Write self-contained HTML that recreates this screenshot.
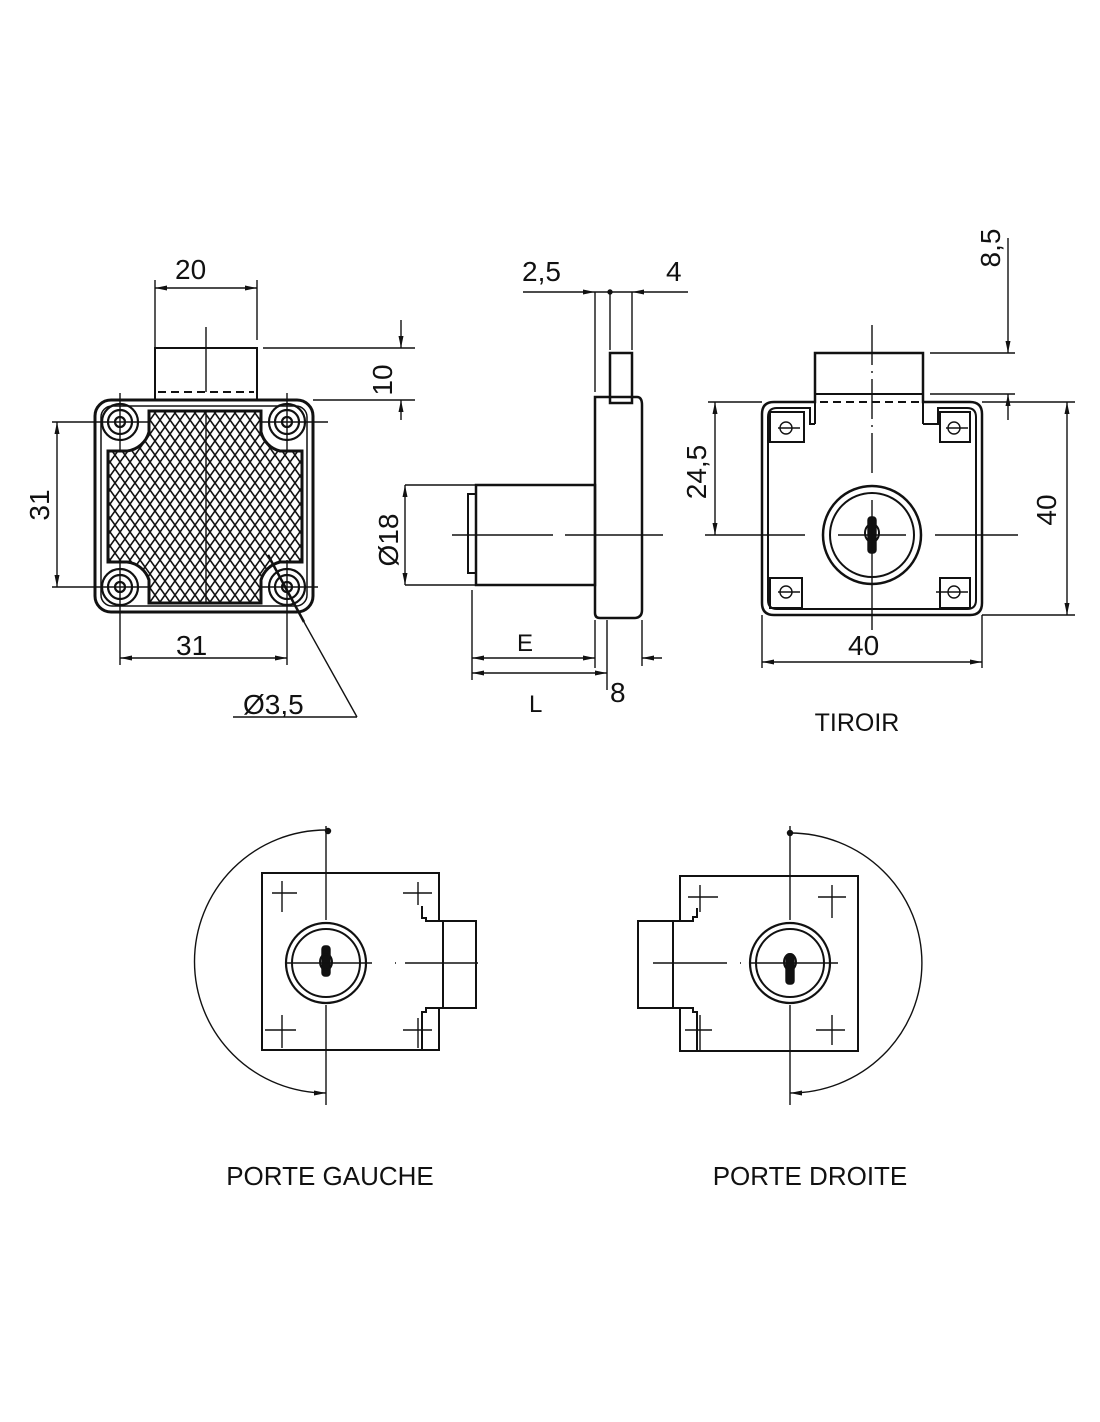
<!DOCTYPE html>
<html><head><meta charset="utf-8"><style>
html,body{margin:0;padding:0;background:#fff}
svg{display:block}
text{font-family:"Liberation Sans",sans-serif;fill:#111}
</style></head><body>
<svg width="1100" height="1422" viewBox="0 0 1100 1422" xmlns="http://www.w3.org/2000/svg">
<defs>
<pattern id="h" width="10" height="14" patternUnits="userSpaceOnUse">
<path d="M0,0 L10,14 M10,0 L0,14 M-5,-7 L5,7 M5,21 L15,35" stroke="#111" stroke-width="1.6" fill="none"/>
</pattern>
<marker id="a" viewBox="0 0 12 6" refX="12" refY="3" markerWidth="12" markerHeight="6" orient="auto-start-reverse" markerUnits="userSpaceOnUse"><path d="M0,0.5 L12,3 L0,5.5 Z" fill="#111"/></marker>
</defs>
<g stroke="#111" fill="none" stroke-width="1.4">
<!-- LEFT VIEW -->
<rect x="95" y="400" width="218" height="212" rx="16" stroke-width="3"/>
<rect x="101" y="406" width="206" height="200" rx="11" stroke-width="1.5"/>
<rect x="155" y="348" width="102" height="52" stroke-width="2"/>
<line x1="158" y1="392" x2="254" y2="392" stroke-dasharray="8,5" stroke-width="2"/>
<line x1="206" y1="327" x2="206" y2="392"/>
<path d="M149,411 H261 V432 A26,26 0 0 0 280,451 H302 V562 H280 A26,26 0 0 0 261,580 V603 H149 V580 A26,26 0 0 0 127,562 H108 V451 H127 A26,26 0 0 0 149,432 Z" fill="url(#h)" stroke-width="3"/>
<line x1="206" y1="411" x2="206" y2="603"/>
<g stroke-width="2.2">
<circle cx="120" cy="422" r="18"/><circle cx="120" cy="422" r="12"/><circle cx="120" cy="422" r="5"/>
<circle cx="287" cy="422" r="18"/><circle cx="287" cy="422" r="12"/><circle cx="287" cy="422" r="5"/>
<circle cx="120" cy="587" r="18"/><circle cx="120" cy="587" r="12"/><circle cx="120" cy="587" r="5"/>
<circle cx="287" cy="587" r="18"/><circle cx="287" cy="587" r="12"/><circle cx="287" cy="587" r="5"/>
</g>
<line x1="120" y1="393" x2="120" y2="450"/><line x1="287" y1="393" x2="287" y2="450"/>
<line x1="120" y1="560" x2="120" y2="665"/><line x1="287" y1="560" x2="287" y2="665"/>
<line x1="52" y1="422" x2="150" y2="422"/><line x1="52" y1="587" x2="150" y2="587"/>
<line x1="262" y1="422" x2="328" y2="422"/><line x1="262" y1="587" x2="318" y2="587"/>
<!-- dims left -->
<line x1="155" y1="280" x2="155" y2="348"/><line x1="257" y1="280" x2="257" y2="340"/>
<line x1="155" y1="288" x2="257" y2="288" marker-start="url(#a)" marker-end="url(#a)"/>
<line x1="263" y1="348" x2="415" y2="348"/><line x1="313" y1="400" x2="415" y2="400"/>
<line x1="401" y1="320" x2="401" y2="348" marker-end="url(#a)"/>
<line x1="401" y1="420" x2="401" y2="400" marker-end="url(#a)"/>
<line x1="57" y1="422" x2="57" y2="587" marker-start="url(#a)" marker-end="url(#a)"/>
<line x1="120" y1="658" x2="287" y2="658" marker-start="url(#a)" marker-end="url(#a)"/>
<line x1="268" y1="555" x2="304" y2="622" stroke-width="2.5"/>
<line x1="304" y1="622" x2="357" y2="717"/>
<line x1="233" y1="717" x2="357" y2="717"/>
<!-- MIDDLE VIEW -->
<path d="M595,397 H637 Q642,397 642,405 V610 Q642,618 634,618 H600 Q595,618 595,613 Z" stroke-width="2.5"/>
<rect x="610" y="353" width="22" height="50" stroke-width="2.5"/>
<rect x="476" y="485" width="119" height="100" stroke-width="2.5"/>
<rect x="468" y="494" width="8" height="79" stroke-width="2"/>
<line x1="452" y1="535" x2="553" y2="535"/><line x1="565" y1="535" x2="663" y2="535"/>
<line x1="405" y1="485" x2="476" y2="485"/><line x1="405" y1="585" x2="476" y2="585"/>
<line x1="405" y1="485" x2="405" y2="585" marker-start="url(#a)" marker-end="url(#a)"/>
<line x1="595" y1="292" x2="595" y2="392"/><line x1="610" y1="292" x2="610" y2="350"/><line x1="632" y1="292" x2="632" y2="350"/>
<line x1="523" y1="292" x2="595" y2="292" marker-end="url(#a)"/>
<line x1="595" y1="292" x2="632" y2="292"/>
<line x1="688" y1="292" x2="632" y2="292" marker-end="url(#a)"/>
<circle cx="610" cy="292" r="2" fill="#111"/>
<line x1="472" y1="590" x2="472" y2="680"/><line x1="595" y1="620" x2="595" y2="668"/>
<line x1="607" y1="620" x2="607" y2="690"/><line x1="642" y1="620" x2="642" y2="666"/>
<line x1="472" y1="658" x2="595" y2="658" marker-start="url(#a)" marker-end="url(#a)"/>
<line x1="472" y1="673" x2="607" y2="673" marker-start="url(#a)" marker-end="url(#a)"/>
<line x1="662" y1="658" x2="642" y2="658" marker-end="url(#a)"/>
<!-- RIGHT VIEW -->
<path d="M774,402 H815 V353 H923 V402 H970 Q982,402 982,414 V603 Q982,615 970,615 H774 Q762,615 762,603 V414 Q762,402 774,402 Z" stroke-width="2.5"/>
<path d="M777,408 H810 V424 H815 M923,424 H938 V408 H967 Q976,408 976,417 V600 Q976,609 967,609 H777 Q768,609 768,600 V417 Q768,408 777,408" stroke-width="2"/>
<line x1="815" y1="394" x2="923" y2="394" stroke-width="2"/>
<line x1="820" y1="402" x2="920" y2="402" stroke-dasharray="8,5" stroke-width="2"/>
<line x1="810" y1="408" x2="810" y2="424" stroke-width="2"/><line x1="815" y1="394" x2="815" y2="424" stroke-width="2"/>
<line x1="923" y1="394" x2="923" y2="424" stroke-width="2"/><line x1="938" y1="408" x2="938" y2="424" stroke-width="2"/>
<rect x="770" y="412" width="34" height="30" stroke-width="2"/>
<rect x="940" y="412" width="30" height="30" stroke-width="2"/>
<rect x="770" y="578" width="32" height="30" stroke-width="2"/>
<rect x="940" y="578" width="30" height="30" stroke-width="2"/>
<circle cx="786" cy="428" r="6"/><circle cx="954" cy="428" r="6"/><circle cx="786" cy="592" r="6"/><circle cx="954" cy="592" r="6"/>
<line x1="778" y1="428" x2="800" y2="428"/><line x1="946" y1="428" x2="968" y2="428"/><line x1="778" y1="592" x2="800" y2="592"/><line x1="936" y1="592" x2="968" y2="592"/>
<circle cx="872" cy="535" r="49" stroke-width="2.5"/><circle cx="872" cy="535" r="42" stroke-width="2"/>
<rect x="868" y="517" width="8" height="36" rx="3" fill="#111"/>
<ellipse cx="872" cy="533" rx="7" ry="9" stroke-width="2"/>
<line x1="872" y1="325" x2="872" y2="478" stroke-dasharray="40,6,2,6"/><line x1="872" y1="500" x2="872" y2="630"/>
<line x1="705" y1="535" x2="805" y2="535"/><line x1="838" y1="535" x2="906" y2="535"/><line x1="935" y1="535" x2="1018" y2="535"/>
<line x1="708" y1="402" x2="762" y2="402"/>
<line x1="715" y1="402" x2="715" y2="535" marker-start="url(#a)" marker-end="url(#a)"/>
<line x1="982" y1="402" x2="1075" y2="402"/><line x1="982" y1="615" x2="1075" y2="615"/>
<line x1="1067" y1="402" x2="1067" y2="615" marker-start="url(#a)" marker-end="url(#a)"/>
<line x1="762" y1="615" x2="762" y2="668"/><line x1="982" y1="615" x2="982" y2="668"/>
<line x1="762" y1="662" x2="982" y2="662" marker-start="url(#a)" marker-end="url(#a)"/>
<line x1="930" y1="353" x2="1015" y2="353"/><line x1="930" y1="394" x2="1015" y2="394"/>
<line x1="1008" y1="238" x2="1008" y2="353" marker-end="url(#a)"/>
<line x1="1008" y1="420" x2="1008" y2="394" marker-end="url(#a)"/>
<!-- PORTE GAUCHE -->
<path d="M439,921 V873 H262 V1050 H439 V1008" stroke-width="2"/>
<path d="M422,906 V918 H426 V921 H476 V1008 H426 V1012 H422 V1050" stroke-width="2"/>
<line x1="443" y1="921" x2="443" y2="1008" stroke-width="2"/>
<circle cx="326" cy="963" r="40" stroke-width="2.2"/><circle cx="326" cy="963" r="34" stroke-width="2"/>
<rect x="322" y="946" width="8" height="30" rx="3" fill="#111"/><ellipse cx="326" cy="962" rx="6" ry="8" stroke-width="2"/>
<line x1="326" y1="826" x2="326" y2="920"/><line x1="326" y1="1005" x2="326" y2="1105"/>
<line x1="285" y1="963" x2="372" y2="963"/><line x1="395" y1="963" x2="396" y2="963"/><line x1="405" y1="963" x2="478" y2="963"/>
<path d="M326,830 A131,131 0 0 0 326,1093" marker-end="url(#a)"/>
<circle cx="328" cy="831" r="2.5" fill="#111"/>
<path d="M272,893 H297 M282,881 V912 M403,893 H432 M418,882 V905 M265,1030 H296 M282,1015 V1048 M403,1030 H432 M418,1018 V1048"/>
<!-- PORTE DROITE -->
<path d="M680,921 V876 H858 V1051 H680 V1008" stroke-width="2"/>
<path d="M697,908 V917 H693 V921 H638 V1008 H693 V1012 H697 V1051" stroke-width="2"/>
<line x1="673" y1="921" x2="673" y2="1008" stroke-width="2"/>
<circle cx="790" cy="963" r="40" stroke-width="2.2"/><circle cx="790" cy="963" r="34" stroke-width="2"/>
<rect x="786" y="954" width="8" height="30" rx="3" fill="#111"/><ellipse cx="790" cy="962" rx="6" ry="8" stroke-width="2"/>
<line x1="790" y1="826" x2="790" y2="920"/><line x1="790" y1="1005" x2="790" y2="1105"/>
<line x1="653" y1="963" x2="727" y2="963"/><line x1="740" y1="963" x2="741" y2="963"/><line x1="750" y1="963" x2="838" y2="963"/>
<path d="M790,833 A132,130 0 0 1 790,1093" marker-end="url(#a)"/>
<circle cx="790" cy="833" r="2.5" fill="#111"/>
<path d="M688,897 H718 M700,885 V912 M818,897 H846 M832,885 V918 M685,1030 H712 M700,1015 V1051 M816,1030 H845 M832,1015 V1045"/>
</g>
<!-- TEXT -->
<g font-size="28">
<text x="175" y="279">20</text>
<text x="176" y="655">31</text>
<text transform="translate(49,505) rotate(-90)" text-anchor="middle">31</text>
<text transform="translate(392,380) rotate(-90)" text-anchor="middle">10</text>
<text x="243" y="714">Ø3,5</text>
<text transform="translate(398,540) rotate(-90)" text-anchor="middle">Ø18</text>
<text x="522" y="281">2,5</text>
<text x="666" y="281">4</text>
<text x="517" y="651" font-size="24">E</text>
<text x="529" y="712" font-size="24">L</text>
<text x="610" y="702">8</text>
<text transform="translate(706,472) rotate(-90)" text-anchor="middle">24,5</text>
<text transform="translate(1056,510) rotate(-90)" text-anchor="middle">40</text>
<text x="848" y="655">40</text>
<text transform="translate(1000,248) rotate(-90)" text-anchor="middle">8,5</text>
<text x="857" y="731" text-anchor="middle" font-size="25">TIROIR</text>
<text x="330" y="1185" text-anchor="middle" font-size="26">PORTE GAUCHE</text>
<text x="810" y="1185" text-anchor="middle" font-size="26">PORTE DROITE</text>
</g>
</svg>
</body></html>
